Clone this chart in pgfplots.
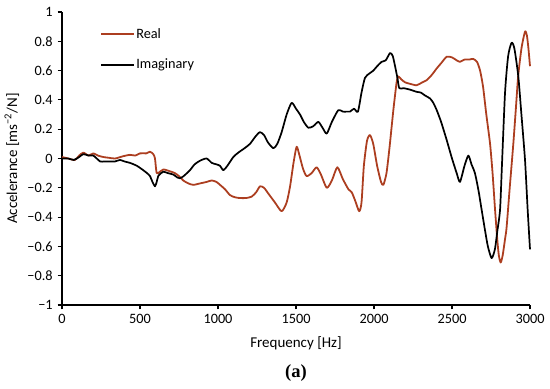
\documentclass[border=0pt]{standalone}
\usepackage{pgfplots}
\pgfplotsset{compat=1.18}
\usepackage{fontspec}
\setmainfont{Carlito}
\newfontfamily\serifbf{Liberation Serif}
\definecolor{realc}{RGB}{172,62,32}
\begin{document}
\begin{tikzpicture}
\begin{axis}[
  name=ax,
  scale only axis,
  width=327.6pt, height=205.1pt,
  xmin=0, xmax=3000, ymin=-1, ymax=1,
  axis lines=left,
  axis line style={-, black, line width=0.9pt},
  tick align=outside,
  major tick length=3pt,
  tick style={black, line width=0.8pt},
  xtick={0,500,1000,1500,2000,2500,3000},
  xticklabels={0,500,1000,1500,2000,2500,3000},
  ytick={-1,-0.8,-0.6,-0.4,-0.2,0,0.2,0.4,0.6,0.8,1},
  yticklabels={−1,−0.8,−0.6,−0.4,−0.2,0,0.2,0.4,0.6,0.8,1},
  ticklabel style={font=\fontsize{10}{12}\selectfont},
  xlabel={Frequency [Hz]},
  ylabel={Accelerance [ms\textsuperscript{−2}/N]},
  label style={font=\fontsize{10.5}{12}\selectfont},
  xlabel style={at={(axis description cs:0.5,-0.13)}, anchor=center},
  ylabel style={at={(axis description cs:-0.107,0.5)}, anchor=center},
  legend style={at={(axis description cs:0.081,0.95)}, anchor=north west, draw=none, fill=none,
    font=\fontsize{10}{12}\selectfont, row sep=11pt, inner sep=0pt,
    nodes={inner sep=1pt}},
  legend cell align=left,
  legend image code/.code={\draw[#1] (0pt,0pt) -- (23pt,0pt);},
  clip=false,
]
\addplot[realc, line width=1.25pt, line join=round, smooth, tension=0.4] coordinates {
(0,0.01) (40,0.0) (83,-0.01) (110,0.02) (137,0.04) (170,0.02) (201,0.035) (230,0.02)
(265,0.01) (300,0.005) (340,0.0) (390,0.015) (436,0.025) (470,0.02) (500,0.035)
(540,0.035) (564,0.046) (585,0.03) (596,0.0) (607,-0.10) (628,-0.09) (650,-0.075)
(671,-0.08) (700,-0.09) (724,-0.10) (750,-0.12) (777,-0.15) (810,-0.17) (842,-0.18)
(885,-0.17) (927,-0.16) (960,-0.15) (990,-0.16) (1013,-0.18) (1045,-0.21) (1077,-0.25)
(1110,-0.265) (1141,-0.27) (1180,-0.27) (1216,-0.26) (1245,-0.23) (1269,-0.19)
(1295,-0.2) (1323,-0.24) (1365,-0.3) (1408,-0.36) (1440,-0.30) (1462,-0.19)
(1484,-0.03) (1504,0.08) (1520,0.03) (1545,-0.07) (1568,-0.12) (1600,-0.10)
(1632,-0.06) (1660,-0.11) (1697,-0.20) (1730,-0.15) (1765,-0.06) (1800,-0.14)
(1836,-0.21) (1857,-0.23) (1880,-0.29) (1905,-0.36) (1920,-0.30) (1935,-0.05)
(1955,0.12) (1974,0.16) (1995,0.10) (2020,-0.05) (2045,-0.16) (2060,-0.18)
(2080,-0.10) (2100,0.08) (2124,0.33) (2145,0.52) (2156,0.56) (2175,0.54) (2199,0.52)
(2230,0.51) (2273,0.50) (2310,0.52) (2338,0.535) (2370,0.57) (2402,0.615) (2430,0.65)
(2466,0.695) (2500,0.69) (2530,0.67) (2551,0.66) (2580,0.675) (2610,0.675) (2635,0.68)
(2660,0.66) (2680,0.60) (2699,0.49) (2720,0.30) (2744,0.10) (2760,-0.10) (2776,-0.35)
(2790,-0.55) (2800,-0.66) (2812,-0.71) (2825,-0.66) (2840,-0.55) (2850,-0.47)
(2870,-0.20) (2893,0.10) (2910,0.35) (2924,0.56) (2945,0.75) (2968,0.866) (2980,0.84)
(2990,0.75) (3000,0.63)
};
\addlegendentry{Real}
\addplot[black, line width=1.2pt, line join=round, smooth, tension=0.4] coordinates {
(0,0.0) (40,0.0) (76,-0.01) (110,0.01) (137,0.03) (170,0.02) (201,0.02) (244,-0.02)
(270,-0.02) (308,-0.02) (340,-0.02) (372,-0.01) (400,-0.02) (436,-0.03) (480,-0.05)
(521,-0.08) (545,-0.10) (564,-0.12) (580,-0.16) (596,-0.19) (607,-0.16) (617,-0.12)
(635,-0.10) (650,-0.09) (680,-0.10) (714,-0.11) (740,-0.13) (756,-0.135) (780,-0.12)
(820,-0.08) (850,-0.04) (885,-0.015) (927,0.0) (960,-0.03) (990,-0.04) (1013,-0.05)
(1034,-0.08) (1060,-0.05) (1098,0.01) (1130,0.04) (1170,0.07) (1205,0.10) (1240,0.15)
(1269,0.18) (1295,0.16) (1320,0.11) (1355,0.07) (1380,0.10) (1408,0.18) (1440,0.30)
(1472,0.38) (1500,0.34) (1526,0.30) (1550,0.25) (1579,0.21) (1610,0.22) (1643,0.25)
(1670,0.21) (1697,0.17) (1730,0.25) (1771,0.33) (1800,0.32) (1825,0.32) (1846,0.32)
(1872,0.34) (1897,0.32) (1920,0.45) (1942,0.55) (1970,0.58) (1996,0.60) (2020,0.63)
(2049,0.66) (2075,0.67) (2103,0.72) (2120,0.70) (2135,0.63) (2150,0.55) (2162,0.48)
(2190,0.48) (2231,0.47) (2273,0.455) (2300,0.45) (2327,0.43) (2359,0.41) (2380,0.38)
(2402,0.33) (2430,0.25) (2466,0.126) (2500,0.0) (2530,-0.10) (2551,-0.16) (2580,-0.05)
(2605,0.02) (2625,-0.04) (2647,-0.10) (2670,-0.22) (2690,-0.35) (2710,-0.48)
(2730,-0.60) (2754,-0.68) (2775,-0.62) (2790,-0.50) (2808,-0.35) (2820,-0.05)
(2840,0.45) (2860,0.70) (2882,0.79) (2900,0.75) (2925,0.56) (2945,0.30) (2968,-0.01)
(2985,-0.35) (3000,-0.62)
};
\addlegendentry{Imaginary}
\end{axis}
\node[font=\serifbf\bfseries\fontsize{13}{15}\selectfont] at ([shift={(163.8pt,-47.6pt)}]ax.south west) {(a)};
\pgfresetboundingbox
\path[use as bounding box] ([shift={(-43.4pt,-58.8pt)}]ax.south west) rectangle ([shift={(341.6pt,213.5pt)}]ax.south west);
\end{tikzpicture}
\end{document}
